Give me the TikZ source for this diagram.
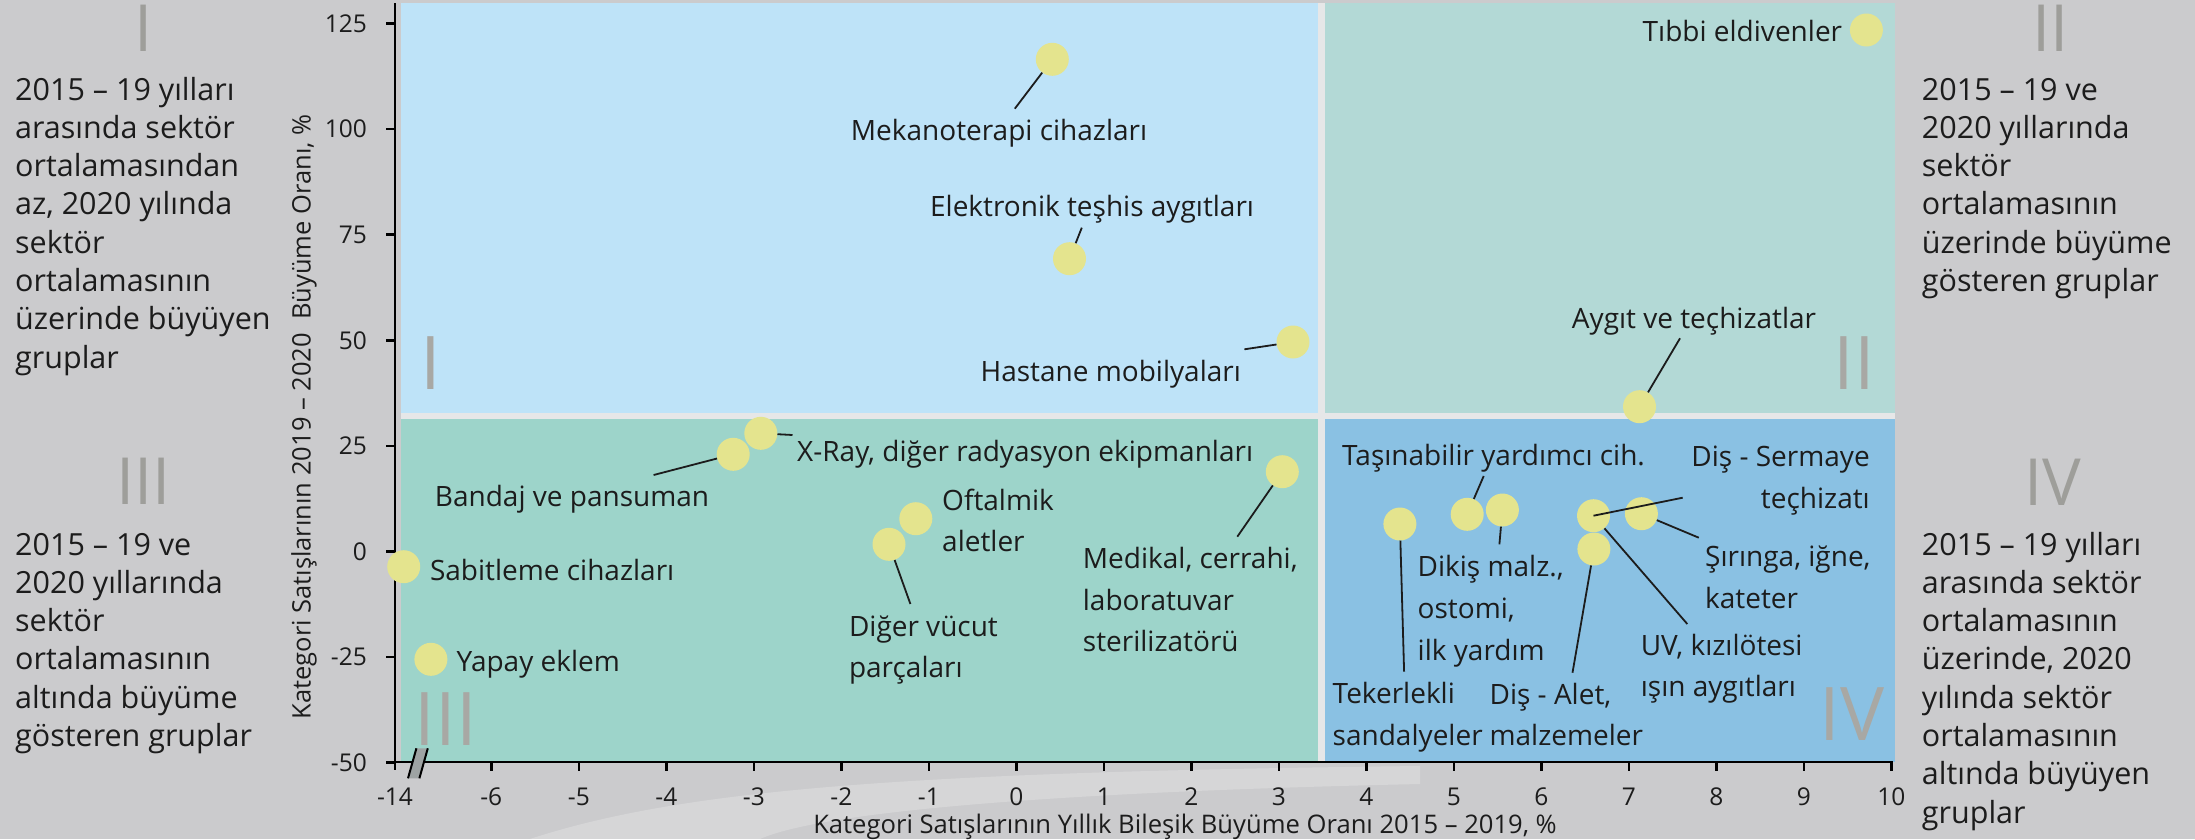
\documentclass[tikz,border=0pt]{standalone}
\usepackage{fontspec}
\setmainfont{Open Sans}
\definecolor{bg}{HTML}{CBCBCD}
\definecolor{gapc}{HTML}{E6E7E8}
\definecolor{qone}{HTML}{BEE3F8}
\definecolor{qtwo}{HTML}{B3D9D6}
\definecolor{qthree}{HTML}{9DD4CA}
\definecolor{qfour}{HTML}{8AC1E3}
\definecolor{dotc}{HTML}{E4E48E}
\definecolor{numc}{HTML}{9E9E9A}
\definecolor{txt}{HTML}{1C1C1C}
\definecolor{brk}{HTML}{9EA3A3}
\tikzset{
  lbl/.style={font=\fontsize{28}{41.8}\selectfont, text=txt, inner sep=0pt, align=left, anchor=base west},
  side/.style={font=\fontsize{30.5}{38.3}\selectfont, text=txt, inner sep=0pt, align=left, anchor=base west},
  ticklbl/.style={font=\fontsize{24.5}{28}\selectfont, text=txt, inner sep=0pt},
  axlbl/.style={font=\fontsize{25.6}{28}\selectfont, text=txt, inner sep=0pt},
  bignum/.style={font=\fontsize{65}{70}\selectfont, text=numc, inner sep=0pt, anchor=base},
  qnum/.style={font=\fontsize{74}{80}\selectfont, text=numc!90, inner sep=0pt, anchor=base},
  dotn/.style={circle, fill=dotc, minimum size=33pt, inner sep=0pt},
  lead/.style={draw=txt, line width=1.8pt},
  axisln/.style={draw=black, line width=2.6pt},
}
\begin{document}
\begin{tikzpicture}[x=1pt,y=-1pt]
\fill[bg] (0,0) rectangle (2195,839);
\useasboundingbox (0,0) rectangle (2195,839);
% faint light swoosh of the background photo
\fill[white, opacity=0.22] (530,839) .. controls (680,790) and (900,772) .. (1420,766) -- (1420,784) .. controls (1050,792) and (820,812) .. (760,839) -- cycle;
% quadrants
\fill[gapc] (401,3.3) rectangle (1895,762);
\fill[qone] (401,3.3) rectangle (1318,412.7);
\fill[qtwo] (1325,3.3) rectangle (1895,412.7);
\fill[qthree] (401,419) rectangle (1318,762);
\fill[qfour] (1325,419) rectangle (1895,762);
% quadrant numerals
\node[qnum] (qI) at (431,389.3) {I};
\node[qnum] (qII) at (1854,389.3) {II};
\node[qnum] (qIII) at (445.8,745.7) {III};
\node[qnum] (qIV) at (1851.7,740.7) {IV};
% side numerals
\node[bignum] (nI) at (143.3,51.7) {I};
\node[bignum] (nIII) at (143.3,504) {III};
\node[bignum] (nII) at (2050.5,51.7) {II};
\node[bignum] (nIV) at (2052.5,505) {IV};
% side texts (anchor = baseline of the last line)
\node[side] (sI) at (15,368.1) {2015 – 19 yılları\\arasında sektör\\ortalamasından\\az, 2020 yılında\\sektör\\ortalamasının\\üzerinde büyüyen\\gruplar};
\node[side] (sIII) at (15,746.5) {2015 – 19 ve\\2020 yıllarında\\sektör\\ortalamasının\\altında büyüme\\gösteren gruplar};
\node[side] (sII) at (1921.7,291.5) {2015 – 19 ve\\2020 yıllarında\\sektör\\ortalamasının\\üzerinde büyüme\\gösteren gruplar};
\node[side] (sIV) at (1921.7,823.1) {2015 – 19 yılları\\arasında sektör\\ortalamasının\\üzerinde, 2020\\yılında sektör\\ortalamasının\\altında büyüyen\\gruplar};
% axes
\draw[axisln] (395,3) -- (395,770);
\draw[axisln] (386,762) -- (1892.5,762);
\foreach \v/\yy in {125/23.3,100/129,75/234.7,50/340.3,25/446,0/551.7,-25/657.1,-50/762.3}{
  \draw[axisln] (386,\yy) -- (395,\yy);
  \node[ticklbl, anchor=east] at (367,\yy) {\v};
}
\foreach \u/\xx in {-6/491.3,-5/578.8,-4/666.3,-3/753.8,-2/841.3,-1/928.8,0/1016.3,1/1103.8,2/1191.3,3/1278.8,4/1366.3,5/1453.8,6/1541.3,7/1628.8,8/1716.3,9/1803.8,10/1891.3}{
  \draw[axisln] (\xx,762) -- (\xx,771);
  \node[ticklbl, anchor=base] at (\xx,805) {\u};
}
\node[ticklbl, anchor=base] (tm14) at (395,805) {-14};
% axis break
\fill[brk] (408,778.3) -- (416.4,748.3) -- (427.8,748.3) -- (419.4,778.3) -- cycle;
\draw[line width=2pt] (408,778.3) -- (416.4,748.3);
\draw[line width=2pt] (419.4,778.3) -- (427.8,748.3);
% axis titles
\node[axlbl, font=\fontsize{25.5}{28}\selectfont, rotate=90] (ytitle) at (304,417) {Kategori Satışlarının 2019 – 2020\ \ Büyüme Oranı, \%};
\node[axlbl, anchor=base] (xtitle) at (1185,833) {Kategori Satışlarının Yıllık Bileşik Büyüme Oranı 2015 – 2019, \%};
% dots
\node[dotn] (dMek) at (1052.3,59.3) {};
\node[dotn] (dElek) at (1069.5,258.7) {};
\node[dotn] (dHast) at (1293,342) {};
\node[dotn] (dTib) at (1866.4,30) {};
\node[dotn] (dAyg) at (1639.5,406.7) {};
\node[dotn] (dXray) at (760.8,433.3) {};
\node[dotn] (dBan) at (733.2,454.3) {};
\node[dotn] (dSab) at (403.7,566.7) {};
\node[dotn] (dYap) at (430.9,659.3) {};
\node[dotn] (dOft) at (915.8,518.7) {};
\node[dotn] (dDig) at (889,544.3) {};
\node[dotn] (dMed) at (1282.3,471.7) {};
\node[dotn] (dTas) at (1467.2,514.3) {};
\node[dotn] (dDik) at (1502.4,510) {};
\node[dotn] (dTek) at (1399.9,524) {};
\node[dotn] (dSer) at (1593.5,515.7) {};
\node[dotn] (dSir) at (1641.4,513.7) {};
\node[dotn] (dAlet) at (1593.9,549) {};
% labels (anchor = baseline of the last line)
\node[lbl] (lMek) at (850.7,140) {Mekanoterapi cihazları};
\node[lbl] (lElek) at (929.9,216) {Elektronik teşhis aygıtları};
\node[lbl] (lHast) at (980.4,381) {Hastane mobilyaları};
\node[lbl] (lTib) at (1642.5,41.7) {Tıbbi eldivenler};
\node[lbl] (lAyg) at (1571.7,328) {Aygıt ve teçhizatlar};
\node[lbl] (lXray) at (797,461.7) {X-Ray, diğer radyasyon ekipmanları};
\node[lbl] (lBan) at (434.7,506.7) {Bandaj ve pansuman};
\node[lbl] (lSab) at (429.8,580) {Sabitleme cihazları};
\node[lbl] (lYap) at (456.5,671.7) {Yapay eklem};
\node[lbl] (lOft) at (942,551.8) {Oftalmik\\aletler};
\node[lbl] (lDig) at (848.8,677.8) {Diğer vücut\\parçaları};
\node[lbl] (lMed) at (1082.7,651.9) {Medikal, cerrahi,\\laboratuvar\\sterilizatörü};
\node[lbl] (lTas) at (1342,465) {Taşınabilir yardımcı cih.};
\node[lbl, anchor=base east, align=right] (lSer) at (1870,508.5) {Diş - Sermaye\\teçhizatı};
\node[lbl] (lDik) at (1417.5,660.3) {Dikiş malz.,\\ostomi,\\ilk yardım};
\node[lbl] (lSir) at (1705,608.5) {Şırınga, iğne,\\kateter};
\node[lbl] (lUV) at (1640.6,696.8) {UV, kızılötesi\\ışın aygıtları};
\node[lbl] (lTek) at (1332.5,745.1) {Tekerlekli\\sandalyeler};
\node[lbl] (lAlet) at (1489.4,745.8) {Diş - Alet,\\malzemeler};
% leader ends
\coordinate (cMek) at (1014.8,108.7);
\coordinate (cElek) at (1081.8,227.7);
\coordinate (cHast) at (1244.4,349.3);
\coordinate (cAyg) at (1680,338.3);
\coordinate (cXray) at (792.5,435);
\coordinate (cBan) at (653.6,475);
\coordinate (cDig) at (910.4,604);
\coordinate (cMed) at (1237.3,536.7);
\coordinate (cTas) at (1483.7,476);
\coordinate (cDik) at (1499.4,544.3);
\coordinate (cTek) at (1404.1,671.7);
\coordinate (cSer) at (1682.7,497.7);
\coordinate (cUV) at (1687.3,624);
\coordinate (cSir) at (1698.8,537.7);
\coordinate (cAlet) at (1572.5,672.7);
% leaders
\draw[lead] (dMek) -- (cMek);
\draw[lead] (dElek) -- (cElek);
\draw[lead] (dHast) -- (cHast);
\draw[lead] (dAyg) -- (cAyg);
\draw[lead] (dXray) -- (cXray);
\draw[lead] (dBan) -- (cBan);
\draw[lead] (dDig) -- (cDig);
\draw[lead] (dMed) -- (cMed);
\draw[lead] (dTas) -- (cTas);
\draw[lead] (dDik) -- (cDik);
\draw[lead] (dTek) -- (cTek);
\draw[lead] (dSer.center) -- (cSer);
\draw[lead] (dSer) -- (cUV);
\draw[lead] (dSir) -- (cSir);
\draw[lead] (dAlet) -- (cAlet);
\end{tikzpicture}
\end{document}
